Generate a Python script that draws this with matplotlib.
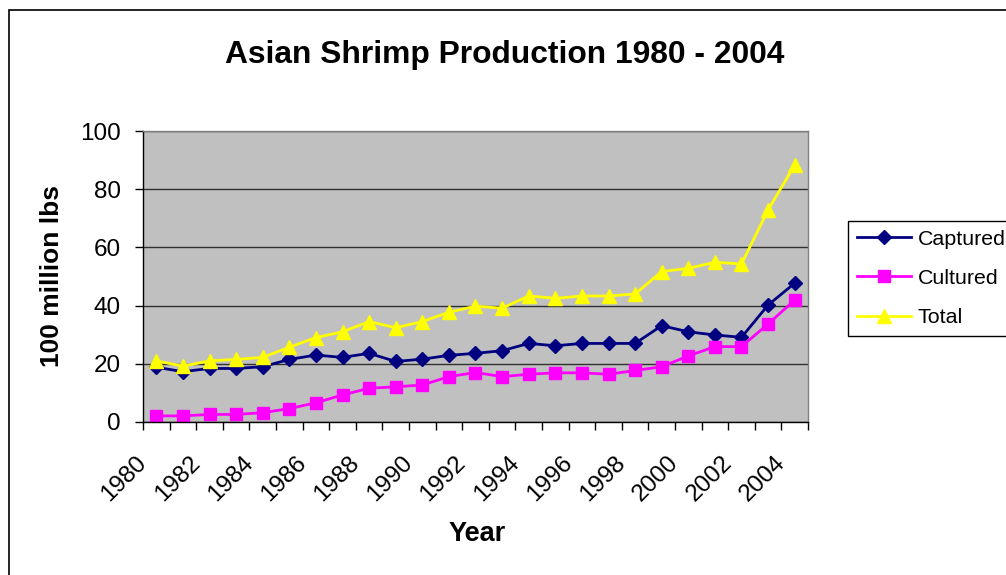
import matplotlib
matplotlib.use("Agg")
import matplotlib.pyplot as plt
import numpy as np
from matplotlib.patches import Rectangle
from matplotlib.transforms import ScaledTranslation

plt.rcParams['font.family'] = ['Liberation Sans', 'DejaVu Sans']

# data (100 million lbs)
years = [str(y) for y in range(1980, 2005)]
captured = [18.8, 17.3, 18.4, 18.4, 19.0, 21.5, 23.0, 22.2, 23.6, 20.8, 21.6, 22.9, 23.6,
            24.5, 27.0, 26.2, 27.0, 27.0, 27.0, 33.1, 31.0, 29.9, 29.1, 40.2, 47.7]
cultured = [2.1, 2.1, 2.6, 2.6, 3.2, 4.6, 6.6, 9.3, 11.6, 12.1, 12.7, 15.6, 17.0,
            15.6, 16.4, 16.9, 16.9, 16.4, 17.7, 19.0, 22.7, 25.9, 25.9, 33.7, 41.9]
total = [21.0, 19.2, 21.0, 21.5, 22.2, 25.7, 29.0, 31.0, 34.5, 32.4, 34.5, 37.7, 39.8,
         39.1, 43.3, 42.5, 43.3, 43.3, 44.0, 51.7, 52.8, 54.9, 54.3, 72.9, 88.3]

W, H = 1006, 575
fig = plt.figure(figsize=(W / 100, H / 100), dpi=100)

# chart area border (runs off the right/bottom edge)
fig.patches.append(Rectangle((9 / W, -0.1), 1.2, 1 - 10 / H + 0.1, transform=fig.transFigure,
                             fill=False, edgecolor='black', linewidth=1.2))

ax = fig.add_axes([143 / W, 1 - 422 / H, (808 - 143) / W, (422 - 131) / H])
ax.set_facecolor('#C0C0C0')

x = np.arange(len(years))
ax.plot(x, captured, color='#000080', lw=2.0, marker='D', ms=6.8, label='Captured')
ax.plot(x, cultured, color='#FF00FF', lw=2.0, marker='s', ms=9.0, label='Cultured')
ax.plot(x, total, color='#FFFF00', lw=2.0, marker='^', ms=9.4, label='Total')

ax.set_xlim(-0.5, len(years) - 0.5)
ax.set_ylim(0, 100)
ax.set_yticks([0, 20, 40, 60, 80, 100])
ax.yaxis.grid(True, color='#303030', lw=1.0)
ax.set_axisbelow(True)
ax.tick_params(axis='y', direction='out', length=5.8, width=1, pad=10, labelsize=17.5)

# tick marks on category boundaries, labels every other year
ax.set_xticks(np.arange(-0.5, len(years), 1.0))
ax.set_xticklabels([])
ax.tick_params(axis='x', which='major', direction='out', length=5.8, width=1)
ax.set_xticks(x[::2], minor=True)
ax.set_xticklabels(years[::2], minor=True)
ax.tick_params(axis='x', which='minor', length=0, pad=27, labelsize=17.5)
shift = ScaledTranslation(-13 / 100, 0, fig.dpi_scale_trans)
for lab in ax.get_xticklabels(minor=True):
    lab.set_rotation(45)
    lab.set_ha('right')
    lab.set_va('center')
    lab.set_rotation_mode('anchor')
    lab.set_transform(lab.get_transform() + shift)

for s in ['left', 'bottom']:
    ax.spines[s].set_color('black')
    ax.spines[s].set_linewidth(1.0)
for s in ['top', 'right']:
    ax.spines[s].set_color('#808080')
    ax.spines[s].set_linewidth(1.0)

fig.text(505 / W, 1 - 55 / H, 'Asian Shrimp Production 1980 - 2004', ha='center', va='center',
         fontsize=22.9, fontweight='bold')
fig.text(52 / W, 1 - 276 / H, '100 million lbs', ha='center', va='center', rotation=90,
         fontsize=19, fontweight='bold')
fig.text(477 / W, 1 - 534 / H, 'Year', ha='center', va='center', fontsize=19.5, fontweight='bold')

leg = fig.legend(loc='upper left', bbox_to_anchor=(848 / W, 1 - 221 / H), borderaxespad=0,
                 fontsize=15.4, handlelength=2.55, handletextpad=0.3, labelspacing=0.95,
                 borderpad=0.4, fancybox=False, framealpha=1, edgecolor='black')
leg.get_frame().set_linewidth(1.0)

fig.savefig('out.png', dpi=100)
